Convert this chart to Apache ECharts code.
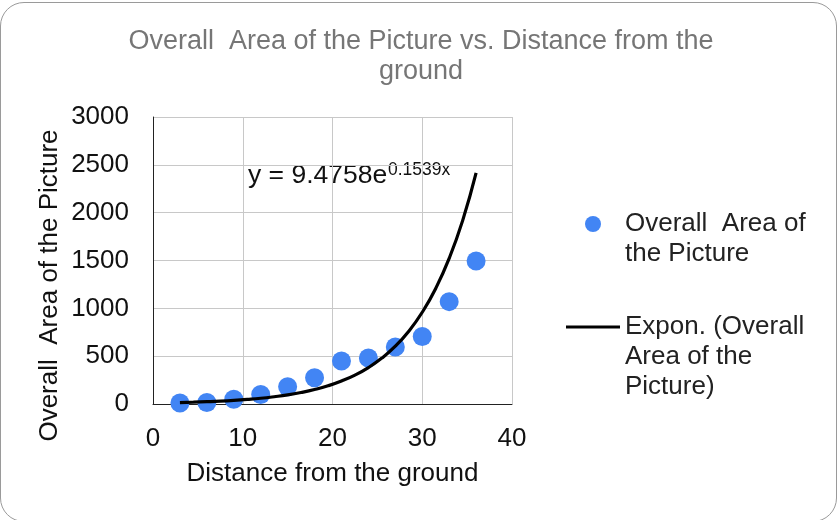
<!DOCTYPE html>
<html>
<head>
<meta charset="utf-8">
<script src="https://cdn.jsdelivr.net/npm/echarts@6/dist/echarts.min.js"></script>
<style>
  html, body { margin: 0; padding: 0; background: #fff; }
  .box { position: relative; width: 839px; height: 520px; overflow: hidden; }
  .frame {
    position: absolute; left: 0px; top: 2px; width: 837px; height: 520px;
    border: 1.5px solid #9a9a9a; border-radius: 24px; box-sizing: border-box;
  }
  #chart { position: absolute; left: 0; top: 0; width: 839px; height: 520px; }
</style>
</head>
<body>
<div class="box">
  <div class="frame"></div>
  <div id="chart"></div>
</div>
<script>
// distance from the ground
const distances = [3, 6, 9, 12, 15, 18, 21, 24, 27, 30, 33, 36]
// overall area of the picture
const areas = [10, 15, 50, 100, 180, 275, 450, 480, 595, 705, 1070, 1495]
// exponential trendline
const trendX = [3, 4.5, 6, 7.5, 9, 10.5, 12, 13.5, 15, 16.5, 18, 19.5, 21, 22.5, 24, 25.5, 27, 28.5, 30, 31.5, 33, 34.5, 36]
const trendValues = [15, 19, 24, 30, 38, 48, 60, 76, 95, 120, 151, 190, 240, 302, 381, 480, 604, 761, 959, 1208, 1522, 1917, 2415]
const xTicks = [0, 10, 20, 30, 40]
const yTicks = [0, 500, 1000, 1500, 2000, 2500, 3000]

const scatterName = 'Overall  Area of the Picture'
const trendName = 'Expon. (Overall  Area of the Picture)'
const font = 'Liberation Sans, Arial, sans-serif'

const chart = echarts.init(document.getElementById('chart'))
const option = {
  animation: false,
  title: {
    text: 'Overall  Area of the Picture vs. Distance from the\nground',
    left: 416,
    top: 22,
    textAlign: 'center',
    textStyle: {
      fontFamily: 'Liberation Sans Narrow, Arial Narrow, sans-serif',
      fontSize: 27,
      fontWeight: 'normal',
      color: '#767676',
      lineHeight: 30
    }
  },
  grid: {
    left: 153,
    right: 327,
    top: 117,
    bottom: 116
  },
  legend: [
    {
      data: [{ name: scatterName, icon: 'circle' }],
      left: 585,
      top: 179,
      padding: 0,
      itemWidth: 54,
      itemHeight: 16,
      formatter: () => '\nOverall  Area of\nthe Picture',
      textStyle: { fontFamily: font, fontSize: 26, color: '#222', lineHeight: 30 }
    },
    {
      data: [{ name: trendName, icon: 'rect' }],
      left: 566,
      top: 252,
      padding: 0,
      itemWidth: 54,
      itemHeight: 3,
      formatter: () => '\n\nExpon. (Overall\nArea of the\nPicture)',
      textStyle: { fontFamily: font, fontSize: 26, color: '#222', lineHeight: 30 }
    }
  ],
  xAxis: {
    type: 'value',
    min: xTicks[0],
    max: xTicks[xTicks.length - 1],
    interval: 10,
    name: 'Distance from the ground',
    nameLocation: 'middle',
    nameGap: 57,
    nameTextStyle: { fontFamily: font, fontSize: 26, color: '#111' },
    axisLine: { lineStyle: { color: '#222', width: 1 } },
    axisTick: { show: false },
    axisLabel: { margin: 22, fontFamily: font, fontSize: 26, color: '#111' },
    splitLine: { lineStyle: { color: '#c8c8c8', width: 1 } }
  },
  yAxis: {
    type: 'value',
    min: yTicks[0],
    max: yTicks[yTicks.length - 1],
    interval: 500,
    name: 'Overall  Area of the Picture',
    nameLocation: 'middle',
    nameGap: 90,
    nameTextStyle: { fontFamily: font, fontSize: 26, color: '#111', padding: [0, 50, 0, 0] },
    axisLine: { show: true, lineStyle: { color: '#222', width: 1 } },
    axisTick: { show: false },
    axisLabel: { margin: 24, fontFamily: font, fontSize: 26, color: '#111', formatter: (v) => String(v) },
    splitLine: { lineStyle: { color: '#c8c8c8', width: 1 } }
  },
  graphic: [
    {
      type: 'text',
      left: 248,
      top: 162,
      style: { text: 'y = 9.4758e', fontFamily: font, fontSize: 26.5, fill: '#111' }
    },
    {
      type: 'text',
      left: 388,
      top: 161,
      style: { text: '0.1539x', fontFamily: font, fontSize: 17.5, fill: '#111' }
    }
  ],
  series: [
    {
      name: scatterName,
      type: 'scatter',
      symbolSize: 19,
      itemStyle: { color: '#4285f4', opacity: 1 },
      data: distances.map((d, i) => [d, areas[i]]),
      z: 2
    },
    {
      name: trendName,
      type: 'line',
      smooth: true,
      symbol: 'none',
      lineStyle: { color: '#000', width: 3.2 },
      itemStyle: { color: '#000' },
      data: trendX.map((d, i) => [d, trendValues[i]]),
      z: 3
    }
  ]
}
chart.setOption(option)
</script>
</body>
</html>
